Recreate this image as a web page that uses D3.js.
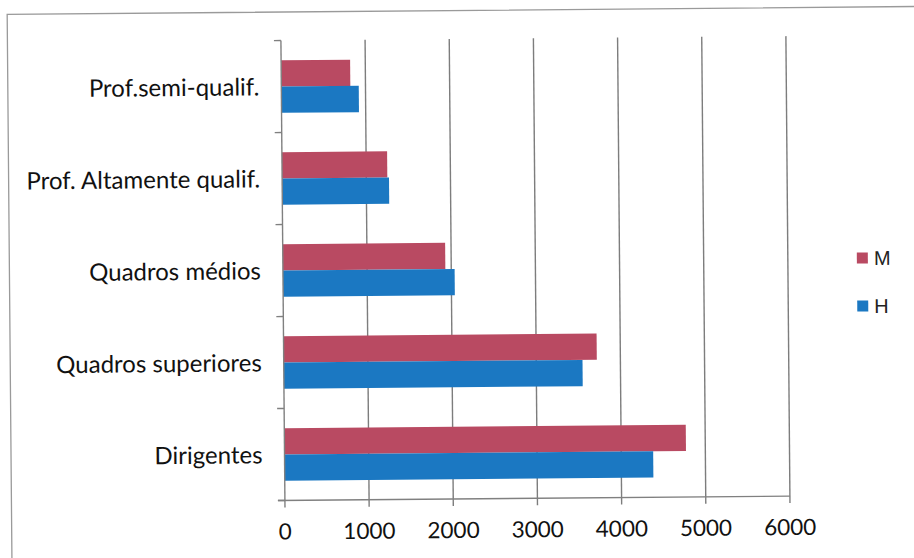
<!DOCTYPE html>
<html>
<head>
<meta charset="utf-8">
<script src="https://cdn.jsdelivr.net/npm/d3@7"></script>
<style>
  html, body { margin: 0; padding: 0; background: #fff; }
  svg { display: block; }
</style>
</head>
<body>
<svg id="chart" width="914" height="558"></svg>
<script>
// Categories listed bottom to top as they appear on the vertical axis
const categories = ["Dirigentes", "Quadros superiores", "Quadros médios", "Prof. Altamente qualif.", "Prof.semi-qualif."];
const seriesNames = ["M", "H"];
const valuesM = [4770, 3720, 1930, 1250, 820];
const valuesH = [4380, 3550, 2040, 1270, 920];
const xTicks = [0, 1000, 2000, 3000, 4000, 5000, 6000];
const seriesColors = ["#b94a62", "#1b78c2"];

const rows = categories.map((c, i) => ({ cat: c, M: valuesM[i], H: valuesH[i] }));

const svg = d3.select("#chart");
const root = svg.append("g").attr("transform", "rotate(-0.5 457 279)");

const plot = { left: 283, right: 788, top: 39, bottom: 499 };

const x = d3.scaleLinear().domain([0, 6000]).range([plot.left, plot.right]);
const y = d3.scaleBand().domain(categories.slice().reverse()).range([plot.top, plot.bottom]).padding(0);
const ySub = d3.scaleBand().domain(seriesNames).range([0, y.bandwidth()]).paddingInner(0).paddingOuter(0.75);
const color = d3.scaleOrdinal().domain(seriesNames).range(seriesColors);

// Outer chart frame
root.append("rect")
  .attr("x", 9.5).attr("y", 10.5).attr("width", 1000).attr("height", 620)
  .attr("fill", "none").attr("stroke", "#9a9a9a").attr("stroke-width", 1.3);

// Vertical gridlines (extend below the axis as tick marks)
root.append("g").selectAll("line")
  .data(xTicks.filter(t => t > 0))
  .join("line")
  .attr("x1", d => x(d)).attr("x2", d => x(d))
  .attr("y1", plot.top).attr("y2", plot.bottom + 7)
  .attr("stroke", "#7d7d7d").attr("stroke-width", 1.4);

// Bars
const groups = root.append("g").selectAll("g")
  .data(rows)
  .join("g")
  .attr("transform", d => `translate(0,${y(d.cat)})`);

groups.selectAll("rect")
  .data(d => seriesNames.map(s => ({ s, v: d[s] })))
  .join("rect")
  .attr("x", x(0))
  .attr("y", d => ySub(d.s))
  .attr("width", d => x(d.v) - x(0))
  .attr("height", ySub.bandwidth())
  .attr("fill", d => color(d.s));

// Category axis line and its tick marks at band boundaries
const axisColor = "#808080";
root.append("line")
  .attr("x1", plot.left).attr("x2", plot.left)
  .attr("y1", plot.top).attr("y2", plot.bottom + 7)
  .attr("stroke", axisColor).attr("stroke-width", 1.4);

const boundaries = y.domain().map(c => y(c)).concat([plot.bottom]);
root.append("g").selectAll("line")
  .data(boundaries)
  .join("line")
  .attr("x1", plot.left - 7).attr("x2", plot.left)
  .attr("y1", d => d).attr("y2", d => d)
  .attr("stroke", axisColor).attr("stroke-width", 1.4);

// Value axis line
root.append("line")
  .attr("x1", plot.left - 7).attr("x2", plot.right)
  .attr("y1", plot.bottom).attr("y2", plot.bottom)
  .attr("stroke", axisColor).attr("stroke-width", 1.4);

// Value tick labels
root.append("g").selectAll("text")
  .data(xTicks)
  .join("text")
  .attr("x", d => x(d))
  .attr("y", 538)
  .attr("text-anchor", "middle")
  .attr("font-family", "Lato, 'Open Sans', sans-serif")
  .attr("font-size", 22.5)
  .attr("fill", "#111")
  .text(d => d);

// Category labels
root.append("g").selectAll("text")
  .data(categories)
  .join("text")
  .attr("x", 261)
  .attr("y", d => y(d) + y.bandwidth() / 2)
  .attr("dy", "0.36em")
  .attr("text-anchor", "end")
  .attr("font-family", "Lato, 'Open Sans', sans-serif")
  .attr("font-size", 24)
  .attr("fill", "#111")
  .text(d => d);

// Legend
const legend = root.append("g").selectAll("g")
  .data(seriesNames)
  .join("g")
  .attr("transform", (d, i) => `translate(857,${256 + i * 48})`);

legend.append("rect")
  .attr("width", 11).attr("height", 11)
  .attr("fill", d => color(d));

legend.append("text")
  .attr("x", 17).attr("y", 5.5).attr("dy", "0.36em")
  .attr("font-family", "'Liberation Sans', Arial, sans-serif")
  .attr("font-size", 20)
  .attr("fill", "#222")
  .text(d => d);
</script>
</body>
</html>
